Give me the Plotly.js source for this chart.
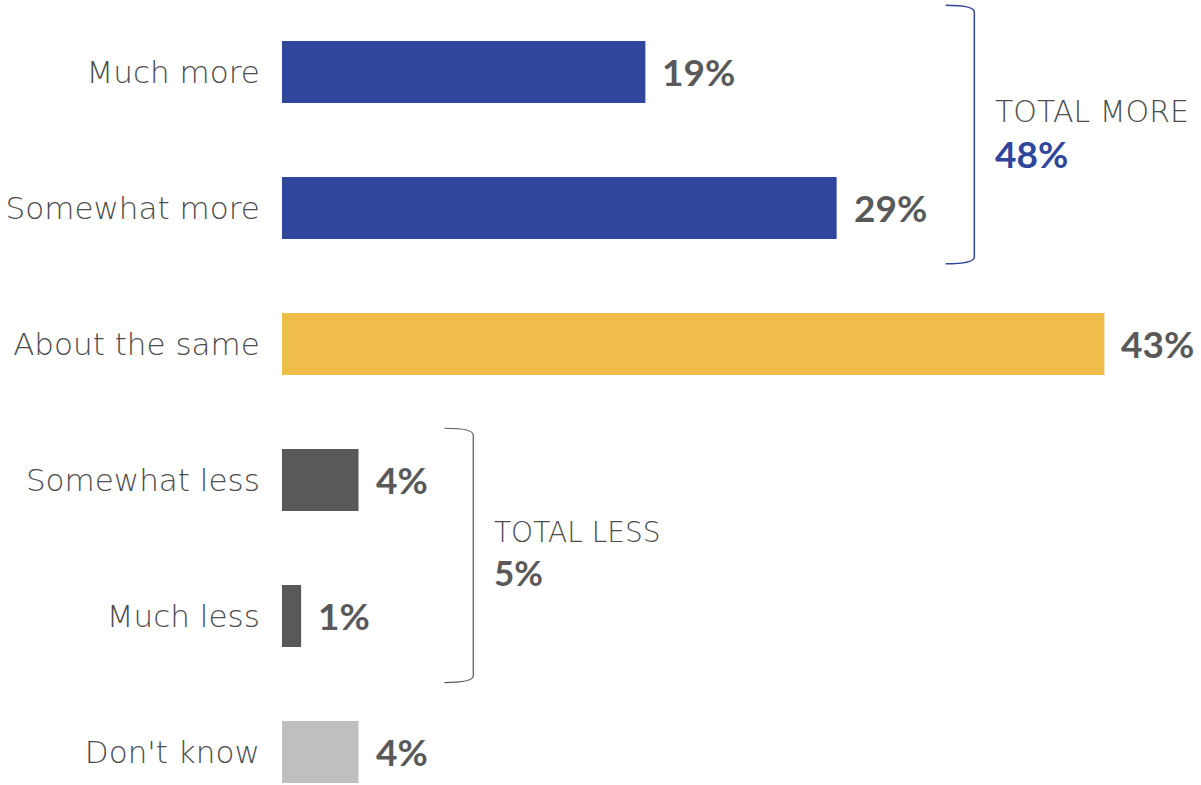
<!DOCTYPE html>
<html>
<head>
<meta charset="utf-8">
<script src="https://cdn.plot.ly/plotly-3.0.1.min.js"></script>
<style>html,body{margin:0;padding:0;background:#fff;}#chart{width:1201px;height:785px;}</style>
</head>
<body>
<div id="chart"></div>
<script>
const categories = ["Much more", "Somewhat more", "About the same", "Somewhat less", "Much less", "Don't know"];
const values = [19, 29, 43, 4, 1, 4];
const barColors = ["#2E469C", "#2E469C", "#F0BD4A", "#595959", "#595959", "#BFBFBF"];
const totalMoreLabel = "TOTAL MORE";
const totalLessLabel = "TOTAL LESS";

const idx = categories.map((c, i) => i);
const totalMore = values[0] + values[1];
const totalLess = values[3] + values[4];
const gray = "#595959";
const textGray = "#4d4d4d";
const lightFont = "'DejaVu Sans', sans-serif";
const boldFont = "Lato, 'Open Sans', sans-serif";

const trace = {
  type: "bar",
  orientation: "h",
  y: idx,
  x: values,
  width: 0.456,
  marker: { color: barColors },
  hoverinfo: "skip"
};

const annotations = values.map((v, i) => ({
  x: v, y: i, xref: "x", yref: "y",
  text: "<b>" + v + "%</b>",
  showarrow: false, xanchor: "left", yanchor: "middle", xshift: 15,
  font: { family: boldFont, size: 37, color: gray }
}));

annotations.push(
  { x: 37.2, y: 0.29, xref: "x", yref: "y", text: totalMoreLabel, showarrow: false,
    xanchor: "left", yanchor: "middle", font: { family: lightFont, size: 30, weight: 300, color: textGray } },
  { x: 37.2, y: 0.6, xref: "x", yref: "y", text: "<b>" + totalMore + "%</b>", showarrow: false,
    xanchor: "left", yanchor: "middle", font: { family: boldFont, size: 37, color: "#2E469C" } },
  { x: 11.0, y: 3.39, xref: "x", yref: "y", text: totalLessLabel, showarrow: false,
    xanchor: "left", yanchor: "middle", font: { family: lightFont, size: 28, weight: 300, color: textGray } },
  { x: 11.0, y: 3.68, xref: "x", yref: "y", text: "<b>" + totalLess + "%</b>", showarrow: false,
    xanchor: "left", yanchor: "middle", font: { family: boldFont, size: 35, color: gray } }
);

const shapes = [
  { type: "path", xref: "x", yref: "y",
    path: "M 34.7,-0.49 Q 36.2,-0.49 36.2,-0.44 L 36.2,1.36 Q 36.2,1.41 34.7,1.41",
    line: { color: "#2E469C", width: 1.5 } },
  { type: "path", xref: "x", yref: "y",
    path: "M 8.5,2.62 Q 10.0,2.62 10.0,2.67 L 10.0,4.44 Q 10.0,4.49 8.5,4.49",
    line: { color: gray, width: 1.2 } }
];

const layout = {
  width: 1201, height: 785,
  margin: { l: 282, r: 1, t: 0, b: 0, pad: 0 },
  paper_bgcolor: "#fff", plot_bgcolor: "#fff",
  showlegend: false,
  xaxis: { range: [0, 48.0], visible: false, fixedrange: true },
  yaxis: {
    range: [5.243, -0.529],
    tickvals: idx, ticktext: categories,
    ticks: "outside", ticklen: 15, tickcolor: "rgba(0,0,0,0)",
    showgrid: false, zeroline: false, showline: false,
    tickfont: { family: lightFont, size: 31, weight: 300, color: textGray },
    fixedrange: true
  },
  annotations: annotations,
  shapes: shapes
};

Plotly.newPlot("chart", [trace], layout, { displayModeBar: false, staticPlot: true });
</script>
</body>
</html>
